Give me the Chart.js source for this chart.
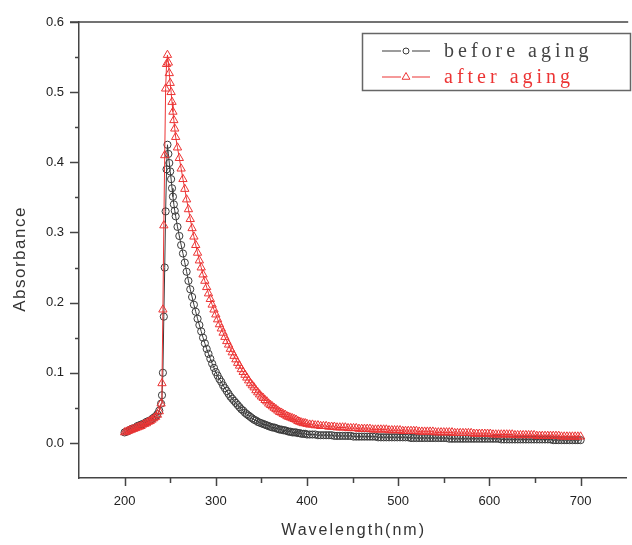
<!DOCTYPE html>
<html>
<head>
<meta charset="utf-8">
<script src="https://cdn.jsdelivr.net/npm/chart.js@4.4.1/dist/chart.umd.min.js"></script>
<style>
html, body { margin: 0; padding: 0; background: #fff; }
</style>
</head>
<body>
<canvas id="uvChart" width="632" height="545"></canvas>
<script>
// Wavelength grid (nm) shared by both spectra
const wavelengths = [
    200, 202, 204, 206, 208, 210, 212, 214, 216, 218, 220, 222, 224, 226, 228, 230, 232, 234, 236, 238,
    240, 241, 242, 243, 244, 245, 246, 247, 248, 249, 250, 251, 252, 253, 254, 255, 256,
    258, 260, 262, 264, 266, 268, 270, 272, 274, 276, 278, 280, 282, 284, 286, 288, 290, 292, 294, 296, 298, 300,
    302, 304, 306, 308, 310, 312, 314, 316, 318, 320, 322, 324, 326, 328, 330, 332, 334, 336, 338, 340,
    342, 344, 346, 348, 350, 352, 354, 356, 358, 360,
    362, 364, 366, 368, 370, 372, 374, 376, 378, 380,
    382, 384, 386, 388, 390, 392, 394, 396, 398, 400,
    403, 406, 409, 412, 415, 418, 421, 424, 427, 430,
    433, 436, 439, 442, 445, 448, 451, 454, 457, 460,
    463, 466, 469, 472, 475, 478, 481, 484, 487, 490,
    493, 496, 499, 502, 505, 508, 511, 514, 517, 520,
    523, 526, 529, 532, 535, 538, 541, 544, 547, 550,
    553, 556, 559, 562, 565, 568, 571, 574, 577, 580,
    583, 586, 589, 592, 595, 598, 601, 604, 607, 610,
    613, 616, 619, 622, 625, 628, 631, 634, 637, 640,
    643, 646, 649, 652, 655, 658, 661, 664, 667, 670,
    673, 676, 679, 682, 685, 688, 691, 694, 697, 700
];

const beforeAging = [
    0.015, 0.016, 0.017, 0.019, 0.020, 0.021, 0.022, 0.024, 0.025, 0.026, 0.027, 0.028, 0.030, 0.031, 0.032, 0.034, 0.036, 0.038, 0.041, 0.046,
    0.056, 0.068, 0.100, 0.180, 0.250, 0.330, 0.390, 0.425, 0.412, 0.399, 0.387, 0.376, 0.363, 0.351, 0.340, 0.331, 0.323,
    0.308, 0.295, 0.282, 0.270, 0.257, 0.244, 0.231, 0.219, 0.208, 0.197, 0.187, 0.177, 0.168, 0.159, 0.150, 0.142, 0.134, 0.127, 0.120, 0.113, 0.107, 0.101,
    0.096, 0.091, 0.087, 0.082, 0.078, 0.074, 0.070, 0.066, 0.063, 0.060, 0.057, 0.054, 0.051, 0.048, 0.046, 0.043, 0.041, 0.039, 0.037, 0.035,
    0.033, 0.032, 0.030, 0.029, 0.028, 0.027, 0.026, 0.025, 0.024, 0.023,
    0.022, 0.022, 0.021, 0.020, 0.019, 0.019, 0.018, 0.018, 0.017, 0.016,
    0.016, 0.015, 0.015, 0.015, 0.014, 0.014, 0.013, 0.013, 0.013, 0.012,
    0.012, 0.012, 0.012, 0.011, 0.011, 0.011, 0.011, 0.011, 0.011, 0.010,
    0.010, 0.010, 0.010, 0.010, 0.010, 0.010, 0.009, 0.009, 0.009, 0.009,
    0.009, 0.009, 0.009, 0.009, 0.009, 0.008, 0.008, 0.008, 0.008, 0.008,
    0.008, 0.008, 0.008, 0.008, 0.008, 0.008, 0.008, 0.007, 0.007, 0.007,
    0.007, 0.007, 0.007, 0.007, 0.007, 0.007, 0.007, 0.007, 0.007, 0.007,
    0.007, 0.006, 0.006, 0.006, 0.006, 0.006, 0.006, 0.006, 0.006, 0.006,
    0.006, 0.006, 0.006, 0.006, 0.006, 0.006, 0.006, 0.006, 0.006, 0.006,
    0.005, 0.005, 0.005, 0.005, 0.005, 0.005, 0.005, 0.005, 0.005, 0.005,
    0.005, 0.005, 0.005, 0.005, 0.005, 0.005, 0.005, 0.005, 0.005, 0.004,
    0.004, 0.004, 0.004, 0.004, 0.004, 0.004, 0.004, 0.004, 0.004, 0.004
];

const afterAging = [
    0.015, 0.016, 0.017, 0.018, 0.019, 0.020, 0.021, 0.022, 0.023, 0.024, 0.026, 0.027, 0.028, 0.030, 0.031, 0.033, 0.035, 0.037, 0.040, 0.045,
    0.056, 0.085, 0.190, 0.310, 0.410, 0.505, 0.540, 0.553, 0.542, 0.527, 0.513, 0.500, 0.486, 0.472, 0.460, 0.448, 0.436,
    0.421, 0.406, 0.391, 0.376, 0.362, 0.347, 0.333, 0.319, 0.306, 0.294, 0.282, 0.271, 0.260, 0.250, 0.240, 0.231, 0.222, 0.213, 0.205, 0.197, 0.190, 0.183,
    0.176, 0.169, 0.163, 0.157, 0.151, 0.145, 0.140, 0.134, 0.129, 0.124, 0.119, 0.114, 0.110, 0.105, 0.101, 0.097, 0.093, 0.089, 0.085, 0.082,
    0.079, 0.075, 0.072, 0.069, 0.066, 0.064, 0.061, 0.059, 0.056, 0.054,
    0.052, 0.050, 0.048, 0.046, 0.044, 0.043, 0.041, 0.040, 0.038, 0.037,
    0.036, 0.035, 0.034, 0.033, 0.031, 0.030, 0.029, 0.028, 0.028, 0.027,
    0.026, 0.026, 0.025, 0.025, 0.024, 0.024, 0.024, 0.023, 0.023, 0.023,
    0.022, 0.022, 0.022, 0.022, 0.021, 0.021, 0.021, 0.021, 0.020, 0.020,
    0.020, 0.020, 0.020, 0.019, 0.019, 0.019, 0.019, 0.019, 0.019, 0.018,
    0.018, 0.018, 0.018, 0.018, 0.017, 0.017, 0.017, 0.017, 0.017, 0.017,
    0.016, 0.016, 0.016, 0.016, 0.016, 0.016, 0.015, 0.015, 0.015, 0.015,
    0.015, 0.015, 0.015, 0.014, 0.014, 0.014, 0.014, 0.014, 0.014, 0.014,
    0.013, 0.013, 0.013, 0.013, 0.013, 0.013, 0.013, 0.012, 0.012, 0.012,
    0.012, 0.012, 0.012, 0.012, 0.012, 0.011, 0.011, 0.011, 0.011, 0.011,
    0.011, 0.011, 0.011, 0.010, 0.010, 0.010, 0.010, 0.010, 0.010, 0.010,
    0.010, 0.010, 0.009, 0.009, 0.009, 0.009, 0.009, 0.009, 0.009, 0.009
];

const seriesLabels = ['before aging', 'after aging'];
const xTicks = [200, 250, 300, 350, 400, 450, 500, 550, 600, 650, 700];
const yTicks = [0, 0.05, 0.1, 0.15, 0.2, 0.25, 0.3, 0.35, 0.4, 0.45, 0.5, 0.55, 0.6];

const BLACK = '#3a3a3a';
const RED = 'rgb(236, 52, 52)';
const AXIS = '#444';

function toPoints(values) {
    return wavelengths.map((w, i) => ({ x: w, y: values[i] }));
}

function isMajorY(v) {
    return Math.round(v * 100) % 10 === 0;
}

// Frame bits the library doesn't do: top line, long/short ticks, titles, boxed legend
const framePlugin = {
    id: 'frame',
    afterDraw(chart) {
        const { ctx, chartArea: a, scales: { x, y } } = chart;
        ctx.save();
        ctx.strokeStyle = AXIS;
        ctx.lineWidth = 1.5;

        ctx.beginPath();
        ctx.moveTo(a.left - 9, a.top);
        ctx.lineTo(a.right + 2, a.top);
        ctx.stroke();

        ctx.beginPath();
        xTicks.forEach(v => {
            const px = Math.round(x.getPixelForValue(v)) + 0.5;
            const len = v % 100 === 0 ? 8 : 5;
            ctx.moveTo(px, a.bottom);
            ctx.lineTo(px, a.bottom + len);
        });
        yTicks.forEach(v => {
            const py = Math.round(y.getPixelForValue(v)) + 0.5;
            const len = isMajorY(v) ? 9 : 4;
            ctx.moveTo(a.left, py);
            ctx.lineTo(a.left - len, py);
        });
        ctx.stroke();

        // axis titles
        ctx.fillStyle = '#333';
        ctx.textAlign = 'center';
        ctx.textBaseline = 'middle';
        ctx.font = '16px "Liberation Sans", Arial, sans-serif';
        ctx.letterSpacing = '2px';
        ctx.fillText('Wavelength(nm)', (a.left + a.right) / 2 + 1, 531);
        ctx.save();
        ctx.translate(20, 259);
        ctx.rotate(-Math.PI / 2);
        ctx.font = '17px "Liberation Sans", Arial, sans-serif';
        ctx.letterSpacing = '1.5px';
        ctx.fillText('Absorbance', 0, 0);
        ctx.restore();

        // legend box
        ctx.strokeStyle = '#666';
        ctx.lineWidth = 1.5;
        ctx.strokeRect(362.5, 33.5, 268, 57);

        const rows = [
            { label: seriesLabels[0], color: BLACK, style: 'circle', r: 3, y: 51 },
            { label: seriesLabels[1], color: RED, style: 'triangle', r: 4.5, y: 77 }
        ];
        ctx.textAlign = 'left';
        ctx.font = '20px "Liberation Serif", "Times New Roman", serif';
        ctx.letterSpacing = '4px';
        rows.forEach(row => {
            ctx.strokeStyle = row.color;
            ctx.lineWidth = 1.2;
            ctx.beginPath();
            ctx.moveTo(382, row.y);
            ctx.lineTo(401, row.y);
            ctx.moveTo(412, row.y);
            ctx.lineTo(430, row.y);
            ctx.stroke();
            ctx.fillStyle = '#fff';
            ctx.lineWidth = 1;
            Chart.helpers.drawPoint(ctx, { pointStyle: row.style, radius: row.r, borderWidth: 1, rotation: 0 }, 406, row.y);
            ctx.fillStyle = row.color === BLACK ? '#444' : row.color;
            ctx.fillText(row.label, 444, row.y + 1);
        });
        ctx.restore();
    }
};

new Chart(document.getElementById('uvChart'), {
    type: 'line',
    data: {
        datasets: [
            {
                label: seriesLabels[0],
                data: toPoints(beforeAging),
                borderColor: BLACK,
                borderWidth: 1,
                pointStyle: 'circle',
                pointRadius: 3.6,
                pointBorderWidth: 1,
                pointBorderColor: BLACK,
                pointBackgroundColor: 'rgba(255,255,255,0)',
                tension: 0,
                order: 2
            },
            {
                label: seriesLabels[1],
                data: toPoints(afterAging),
                borderColor: RED,
                borderWidth: 1,
                pointStyle: 'triangle',
                pointRadius: 4.8,
                pointBorderWidth: 1,
                pointBorderColor: RED,
                pointBackgroundColor: 'rgba(255,255,255,0)',
                tension: 0,
                order: 1
            }
        ]
    },
    options: {
        responsive: false,
        animation: false,
        events: [],
        layout: { padding: { top: 22, right: 2, left: 0, bottom: 0 } },
        plugins: {
            legend: { display: false },
            tooltip: { enabled: false }
        },
        scales: {
            x: {
                type: 'linear',
                min: 150,
                max: 750,
                afterFit: scale => { scale.height = 67; },
                afterBuildTicks: scale => { scale.ticks = xTicks.map(v => ({ value: v })); },
                grid: { display: false, drawTicks: true, tickLength: 8 },
                border: { display: true, color: AXIS, width: 1.5 },
                ticks: {
                    padding: 8,
                    color: '#222',
                    font: { family: '"Liberation Sans", Arial, sans-serif', size: 13 },
                    maxRotation: 0,
                    autoSkip: false,
                    callback: v => (v % 100 === 0 ? String(v) : '')
                }
            },
            y: {
                min: -0.05,
                max: 0.6,
                afterFit: scale => { scale.width = 79; },
                afterBuildTicks: scale => { scale.ticks = yTicks.map(v => ({ value: v })); },
                grid: { display: false, drawTicks: true, tickLength: 8 },
                border: { display: true, color: AXIS, width: 1.5 },
                ticks: {
                    padding: 7,
                    color: '#222',
                    font: { family: '"Liberation Sans", Arial, sans-serif', size: 13 },
                    autoSkip: false,
                    callback: v => (isMajorY(v) ? v.toFixed(1) : '')
                }
            }
        }
    },
    plugins: [framePlugin]
});
</script>
</body>
</html>
